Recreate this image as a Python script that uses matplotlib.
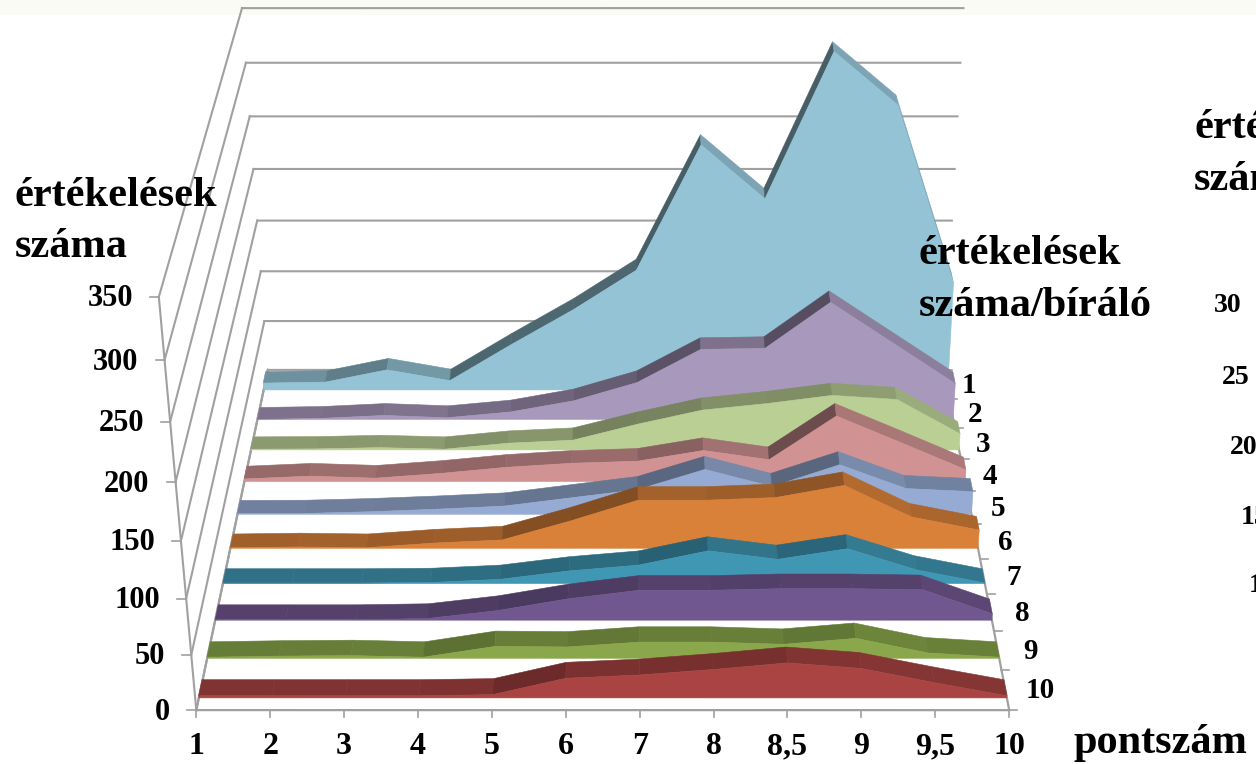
import numpy as np
import matplotlib
matplotlib.use('Agg')
import matplotlib.pyplot as plt
import matplotlib.colors as mcolors

# x categories (pontszam)
pontszam = ['1', '2', '3', '4', '5', '6', '7', '8', '8,5', '9', '9,5', '10']
y_ticks = [0, 50, 100, 150, 200, 250, 300, 350]
biralo_labels = ['1', '2', '3', '4', '5', '6', '7', '8', '9', '10']

# number of ratings per reviewer group
ertek_1 = [7, 8, 20.5, 9.5, 46, 81, 120, 240, 189, 326, 277, 107]
ertek_2 = [0, 1, 4, 1.7, 7.5, 18.7, 37, 70, 71, 116, 76, 36]
ertek_3 = [0.7, 1, 2.3, 0.7, 6.7, 9.7, 25.5, 39.5, 46, 54, 50, 16]
ertek_4 = [2.5, 5.3, 3.3, 8, 14, 18, 20, 30.5, 21.5, 64, 38, 11.5]
ertek_5 = [0.6, 0.8, 2.5, 5, 8, 16, 24, 43.5, 27, 48, 25, 22]
ertek_6 = [0.5, 1.3, 0.5, 5, 8, 26, 46, 46, 48.5, 60, 30, 17.5]
ertek_7 = [0.5, 0.5, 0.5, 1, 4, 12, 17.5, 31, 23, 33, 13, 0.5]
ertek_8 = [0.5, 0.5, 0.5, 1.5, 9, 20, 28, 28, 29.5, 29.5, 28.5, 6]
ertek_9 = [1, 2, 2.5, 1, 11, 10.5, 15, 15, 13, 18.5, 5, 1]
ertek_10 = [2, 2, 2, 2, 3, 18, 21, 26, 32, 27, 14, 2]
series = [ertek_1, ertek_2, ertek_3, ertek_4, ertek_5, ertek_6, ertek_7, ertek_8, ertek_9, ertek_10]

front_colors = ['#93C3D5', '#A898BC', '#BACF94', '#D09292', '#95ABD3',
                '#D98139', '#4097B4', '#71578F', '#8AA84B', '#A94442']

SERIF = 'Liberation Serif'
GRID = '#A0A0A0'
VMAX = 350.


def fit_camera():
    # projective camera from the 8 corners of the chart box: (x, v, z) -> pixel
    world = [(0, 0, 0), (1, 0, 0), (0, 0, 1), (1, 0, 1), (0, 1, 0), (1, 1, 0), (0, 1, 1), (1, 1, 1)]
    pix = [(197, 710), (1008, 710), (267, 370), (945, 370), (158, 297), (1040, 297), (243, 8), (962, 8)]
    A, b = [], []
    for (X, Y, Z), (u, v) in zip(world, pix):
        A.append([X, Y, Z, 1, 0, 0, 0, 0, -u*X, -u*Y, -u*Z])
        b.append(u)
        A.append([0, 0, 0, 0, X, Y, Z, 1, -v*X, -v*Y, -v*Z])
        b.append(v)
    p = np.linalg.lstsq(np.array(A, float), np.array(b, float), rcond=None)[0]
    return np.append(p, 1).reshape(3, 4)


P = fit_camera()


def project(x, v, z):
    x, v, z = np.broadcast_arrays(np.asarray(x, float), np.asarray(v, float)/VMAX, np.asarray(z, float))
    w = P @ np.array([x, v, z, np.ones_like(x)])
    return w[0]/w[2], w[1]/w[2]


def shade(color, slope):
    # top surface: darker when it climbs, a little lighter when it falls
    if slope > 0:
        f = 0.75 - 0.27*np.tanh(2*slope)
    else:
        f = 0.75 + 0.10*np.tanh(-2*slope)
    return tuple(np.array(mcolors.to_rgb(color))*f)


fig = plt.figure(figsize=(12.56, 7.64), dpi=100)
ax = fig.add_axes([0, 0, 1, 1])
ax.set_xlim(0, 1256)
ax.set_ylim(764, 0)
ax.axis('off')

# pale strip along the top of the slide
ax.fill_between([0, 1256], 0, 15, color='#FAFBF4', lw=0, zorder=0)

# walls
for v in y_ticks:
    xs, ys = project([0, 1], v, 1)
    ax.plot(xs, ys, color=GRID, lw=1.5, zorder=1)
    xs, ys = project(0, v, [0, 1])
    ax.plot(xs, ys, color=GRID, lw=1.5, zorder=1)
xs, ys = project(0, [0, VMAX], 0)
ax.plot(xs, ys, color=GRID, lw=1.5, zorder=1)
for xv, zv in [([0, 1], 0), (1, [0, 1]), (0, [0, 1])]:
    xs, ys = project(xv, 0, zv)
    ax.plot(xs, ys, color=GRID, lw=1.6, zorder=1)

# ticks
xpos = np.linspace(0, 1, len(pontszam))
for xv, lab in zip(xpos, pontszam):
    px, py = project(xv, 0, 0)
    ax.plot([px, px], [py, py+7], color=GRID, lw=1.2, zorder=1)
    ax.text(px, 747, lab, family=SERIF, weight='bold', fontsize=23, ha='center', va='center', zorder=20)
for v in y_ticks:
    px, py = project(0, v, 0)
    ax.plot([px-9, px], [py, py], color=GRID, lw=1.2, zorder=1)
    ax.text(px-26, py+2, str(v), family=SERIF, weight='bold', fontsize=22, ha='right', va='center', zorder=20)
for i in range(11):
    px, py = project(1, 0, i/10)
    ax.plot([px, px+8], [py, py], color=GRID, lw=1.2, zorder=1)

# areas, back row first
for k, (vals, col, lab) in enumerate(zip(series, front_colors, biralo_labels)):
    row = 9-k
    z0, z1 = row/10+0.03, row/10+0.07
    vals = np.array(vals, float)
    fx, fy = project(xpos, vals, z0)
    bx, by = project(xpos, vals, z1)
    for i in range(len(xpos)-1):
        slope = -(fy[i+1]-fy[i])/(fx[i+1]-fx[i])
        c = shade(col, slope)
        ax.fill([fx[i], fx[i+1], bx[i+1], bx[i]], [fy[i], fy[i+1], by[i+1], by[i]],
                facecolor=c, edgecolor=c, lw=0.4, zorder=5+k)
    bl_x, bl_y = project([1, 0], 0, z0)
    ax.fill(np.r_[fx, bl_x], np.r_[fy, bl_y], facecolor=col, edgecolor=col, lw=0.4, zorder=5+k)
    px, py = project(1, 0, row/10+0.05)
    ax.text(px+21+14*(1-z0), py+1, lab, family=SERIF, weight='bold', fontsize=21, ha='center', va='center', zorder=20)

# axis titles
title_kw = dict(family=SERIF, weight='bold', fontsize=30.5, color='black', va='center', ha='left', zorder=25)
ax.text(15, 196, 'értékelések', **title_kw)
ax.text(15, 247, 'száma', **title_kw)
ax.text(919, 254, 'értékelések', **title_kw)
ax.text(919, 306, 'száma/bíráló', **title_kw)
ax.text(1073, 743, 'pontszám', **title_kw)

# second chart cut off by the right edge of the slide
ax.text(1194, 128, 'értékelések', **title_kw)
ax.text(1194, 180, 'száma', **title_kw)
for lab, x, y in [('30', 1214, 305), ('25', 1222, 378), ('20', 1230, 448), ('15', 1241, 518), ('10', 1249, 586)]:
    ax.text(x, y, lab, family=SERIF, weight='bold', fontsize=20, ha='left', va='center', zorder=20)

fig.savefig('out.png', dpi=100)
